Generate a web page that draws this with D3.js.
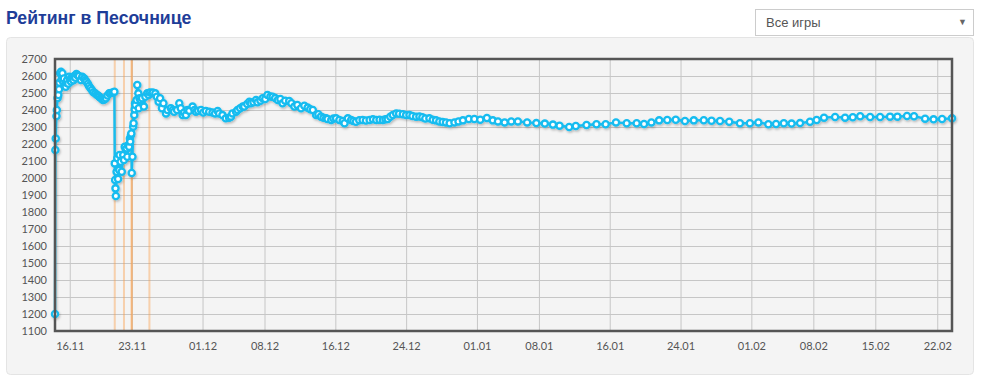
<!DOCTYPE html>
<html>
<head>
<meta charset="utf-8">
<script src="https://cdn.jsdelivr.net/npm/d3@7"></script>
<style>
  body { margin: 0; background: #fff; }
  #wrap { position: relative; width: 984px; height: 376px; }
  #sel {
    position: absolute; left: 755px; top: 9px; width: 217px; height: 25px;
    border: 1px solid #ccc; background: #fff; box-sizing: content-box;
    font: 13px "Liberation Sans", Arial, sans-serif; color: #555;
  }
  #sel span.t { position: absolute; left: 10px; top: 5px; }
  #sel span.a { position: absolute; right: 6px; top: 7px; font-size: 9px; color: #666; }
</style>
</head>
<body>
<div id="wrap">
  <div id="graf"></div>
  <div id="sel"><span class="t">Все игры</span><span class="a">▼</span></div>
</div>
<script>
// data: time of game ("dd.mm.yy HH") and sandbox rating after it
dates = [
  "14.11.16 08","14.11.16 09","14.11.16 10","14.11.16 12","14.11.16 13","14.11.16 15","14.11.16 17","14.11.16 19",
  "14.11.16 20","14.11.16 22","15.11.16 00","15.11.16 02","15.11.16 04","15.11.16 06","15.11.16 08","15.11.16 11",
  "15.11.16 13","15.11.16 15","15.11.16 17","15.11.16 20","15.11.16 22","16.11.16 01","16.11.16 03","16.11.16 05",
  "16.11.16 07","16.11.16 10","16.11.16 12","16.11.16 15","16.11.16 18","16.11.16 21","17.11.16 01","17.11.16 06",
  "17.11.16 10","17.11.16 15","17.11.16 18","17.11.16 21","18.11.16 01","18.11.16 04","18.11.16 08","18.11.16 12",
  "18.11.16 16","18.11.16 21","19.11.16 01","19.11.16 05","19.11.16 08","19.11.16 12","19.11.16 16","19.11.16 18",
  "19.11.16 22","20.11.16 02","20.11.16 06","20.11.16 11","20.11.16 15","20.11.16 20","20.11.16 23","21.11.16 01",
  "21.11.16 02","21.11.16 03","21.11.16 04","21.11.16 05","21.11.16 07","21.11.16 09","21.11.16 11","21.11.16 14",
  "21.11.16 15","21.11.16 18","21.11.16 21","22.11.16 01","22.11.16 03","22.11.16 05","22.11.16 08","22.11.16 10",
  "22.11.16 12","22.11.16 15","22.11.16 17","22.11.16 19","22.11.16 20","22.11.16 22","22.11.16 23","23.11.16 00",
  "23.11.16 02","23.11.16 04","23.11.16 05","23.11.16 07","23.11.16 08","23.11.16 09","23.11.16 10","23.11.16 13",
  "23.11.16 15","23.11.16 18","23.11.16 19","23.11.16 21","24.11.16 00","24.11.16 04","24.11.16 09","24.11.16 13",
  "24.11.16 18","24.11.16 22","25.11.16 01","25.11.16 07","25.11.16 09","25.11.16 16","25.11.16 20","26.11.16 01",
  "26.11.16 05","26.11.16 10","26.11.16 14","26.11.16 21","27.11.16 01","27.11.16 10","27.11.16 15","27.11.16 19",
  "28.11.16 03","28.11.16 09","28.11.16 13","28.11.16 18","28.11.16 22","29.11.16 03","29.11.16 07","29.11.16 12",
  "29.11.16 21","30.11.16 02","30.11.16 06","30.11.16 12","30.11.16 20","01.12.16 02","01.12.16 09","01.12.16 18",
  "02.12.16 03","02.12.16 10","02.12.16 17","02.12.16 21","03.12.16 06","03.12.16 15","04.12.16 00","04.12.16 05",
  "04.12.16 09","04.12.16 19","04.12.16 23","05.12.16 06","05.12.16 13","05.12.16 17","06.12.16 01","06.12.16 07",
  "06.12.16 11","06.12.16 18","07.12.16 01","07.12.16 05","07.12.16 13","07.12.16 19","08.12.16 02","08.12.16 08",
  "08.12.16 16","08.12.16 22","09.12.16 05","09.12.16 12","09.12.16 19","10.12.16 01","10.12.16 08","10.12.16 19",
  "11.12.16 01","11.12.16 09","11.12.16 17","12.12.16 03","12.12.16 12","12.12.16 21","13.12.16 04","13.12.16 11",
  "13.12.16 20","14.12.16 02","14.12.16 09","14.12.16 16","14.12.16 23","15.12.16 03","15.12.16 13","15.12.16 19",
  "16.12.16 02","16.12.16 11","16.12.16 20","17.12.16 01","17.12.16 10","17.12.16 19","18.12.16 01","18.12.16 08",
  "18.12.16 17","19.12.16 02","19.12.16 11","19.12.16 21","20.12.16 06","20.12.16 15","21.12.16 00","21.12.16 09",
  "21.12.16 16","21.12.16 22","22.12.16 05","22.12.16 12","22.12.16 21","23.12.16 05","23.12.16 15","24.12.16 00",
  "24.12.16 09","24.12.16 17","25.12.16 03","25.12.16 12","25.12.16 20","26.12.16 04","26.12.16 15","27.12.16 00",
  "27.12.16 09","27.12.16 18","28.12.16 03","28.12.16 12","28.12.16 22","29.12.16 11","29.12.16 22","30.12.16 10",
  "31.12.16 02","31.12.16 17","01.01.17 09","02.01.17 03","02.01.17 19","03.01.17 09","04.01.17 03","04.01.17 21",
  "05.01.17 15","06.01.17 16","07.01.17 17","08.01.17 16","09.01.17 14","10.01.17 08","11.01.17 10","12.01.17 04",
  "13.01.17 09","14.01.17 12","15.01.17 13","16.01.17 17","17.01.17 22","19.01.17 01","19.01.17 21","20.01.17 17",
  "21.01.17 14","22.01.17 12","23.01.17 11","24.01.17 12","25.01.17 12","26.01.17 15","27.01.17 12","28.01.17 11",
  "29.01.17 12","30.01.17 17","31.01.17 20","01.02.17 19","02.02.17 22","03.02.17 19","04.02.17 16","05.02.17 13",
  "06.02.17 12","07.02.17 15","08.02.17 09","09.02.17 05","10.02.17 11","11.02.17 14","12.02.17 11","13.02.17 07",
  "14.02.17 10","15.02.17 13","16.02.17 16","17.02.17 12","18.02.17 14","19.02.17 09","20.02.17 15","21.02.17 14",
  "22.02.17 13","23.02.17 16"
]
ratings = [
  1200,2165,2233,2365,2400,2470,2488,2522,
  2561,2616,2625,2580,2616,2567,2586,2550,
  2537,2560,2576,2555,2596,2580,2567,2590,
  2586,2575,2600,2590,2612,2605,2600,2576,
  2595,2586,2575,2567,2555,2541,2530,2518,
  2505,2498,2490,2485,2478,2470,2465,2459,
  2462,2469,2485,2498,2500,2502,2505,2508,
  2086,1988,1939,1894,2037,2116,1994,2047,
  2135,2096,2037,2135,2106,2184,2165,2174,
  2125,2194,2184,2233,2214,2253,2262,2029,
  2125,2302,2322,2370,2404,2440,2429,2459,
  2547,2498,2410,2469,2459,2469,2420,2478,
  2498,2488,2503,2498,2503,2498,2478,2449,
  2469,2410,2440,2380,2400,2410,2400,2390,
  2400,2440,2410,2370,2385,2370,2400,2395,
  2420,2400,2390,2395,2400,2385,2394,2390,
  2386,2380,2394,2380,2370,2351,2355,2361,
  2380,2390,2400,2410,2420,2420,2435,2449,
  2440,2445,2459,2445,2455,2469,2465,2488,
  2480,2478,2470,2459,2465,2440,2455,2453,
  2440,2420,2430,2410,2425,2414,2405,2400,
  2370,2375,2361,2355,2351,2347,2341,2350,
  2351,2341,2335,2322,2351,2341,2335,2331,
  2340,2341,2338,2341,2345,2341,2343,2341,
  2345,2347,2360,2370,2380,2378,2375,2370,
  2370,2365,2361,2362,2358,2350,2351,2342,
  2339,2332,2330,2327,2322,2327,2333,2339,
  2347,2347,2343,2353,2339,2333,2327,2333,
  2333,2327,2323,2320,2314,2308,2300,2306,
  2312,2316,2316,2327,2322,2322,2318,2327,
  2339,2341,2343,2335,2339,2340,2337,2335,
  2331,2322,2322,2327,2316,2318,2322,2320,
  2323,2331,2341,2355,2359,2355,2357,2363,
  2359,2359,2361,2361,2365,2363,2349,2345,
  2347,2351
]
// orange marks (23.11 has two of them, so it looks darker)
eventos = ["21.11.16 02", "22.11.16 03", "23.11.16 00", "23.11.16 00", "25.11.16 00"]
xTicks = ["16.11.16", "23.11.16", "01.12.16", "08.12.16", "16.12.16", "24.12.16", "01.01.17",
          "08.01.17", "16.01.17", "24.01.17", "01.02.17", "08.02.17", "15.02.17", "22.02.17"]
yTicks = d3.range(1100, 2701, 100)

parseTime = d3.timeParse("%d.%m.%y %H")
parseDay = d3.timeParse("%d.%m.%y")
data = dates.map((d, i) => ({ date: parseTime(d), rating: ratings[i] }))

ancho_total = 984
alto_total = 376
margins = { top: 59, left: 55, right: 32, bottom: 45 }
ancho = ancho_total - margins.left - margins.right
alto = alto_total - margins.top - margins.bottom

svg = d3.select('#graf').append('svg')
        .attr('width', ancho_total)
        .attr('height', alto_total)
        .style('position', 'absolute').style('left', 0).style('top', 0)

defs = svg.append('defs')
defs.append('filter').attr('id', 'sombra')
        .attr('x', '-20%').attr('y', '-20%').attr('width', '140%').attr('height', '140%')
        .append('feDropShadow')
        .attr('dx', 1).attr('dy', 1.5).attr('stdDeviation', 1)
        .attr('flood-color', '#000').attr('flood-opacity', 0.25)

// title
svg.append('text')
        .attr('x', 6).attr('y', 24)
        .style('font', 'bold 17.7px "Liberation Sans", Arial, sans-serif')
        .style('fill', '#1e3d98')
        .text('Рейтинг в Песочнице')

// grey panel
svg.append('rect')
        .attr('x', 6.5).attr('y', 37.5).attr('width', 967).attr('height', 337)
        .attr('rx', 4)
        .style('fill', '#f4f4f4').style('stroke', '#e4e4e4')

g = svg.append('g')
        .attr('transform', `translate(${margins.left}, ${margins.top})`)

x = d3.scaleTime().range([0, ancho]).domain(d3.extent(data, d => d.date))
y = d3.scaleLinear().range([alto, 0]).domain([1100, 2700])

// grid
g.append('g')
        .call(d3.axisLeft(y).tickValues(yTicks).tickSize(-ancho).tickFormat(''))
        .call(a => a.select('.domain').remove())
        .selectAll('line').style('stroke', '#c6c6c6')
g.append('g')
        .attr('transform', `translate(0, ${alto})`)
        .call(d3.axisBottom(x).tickValues(xTicks.map(parseDay)).tickSize(-alto).tickFormat(''))
        .call(a => a.select('.domain').remove())
        .selectAll('line').style('stroke', '#c6c6c6')

// event marks
g.selectAll('.evento').data(eventos).join('line')
        .attr('class', 'evento')
        .attr('x1', d => x(parseTime(d))).attr('x2', d => x(parseTime(d)))
        .attr('y1', 0).attr('y2', alto)
        .style('stroke', '#fb9d48').style('stroke-opacity', 0.42).style('stroke-width', 2)

// labels
g.append('g')
        .call(d3.axisLeft(y).tickValues(yTicks).tickSize(0).tickPadding(8).tickFormat(d3.format('d')))
        .call(a => a.select('.domain').remove())
        .selectAll('text').style('font', '11px Lato').style('fill', '#555')
g.append('g')
        .attr('transform', `translate(0, ${alto})`)
        .call(d3.axisBottom(x).tickValues(xTicks.map(parseDay)).tickSize(0).tickPadding(11)
                .tickFormat(d3.timeFormat('%d.%m')))
        .call(a => a.select('.domain').remove())
        .selectAll('text').style('font', '11px Lato').style('fill', '#555')

// rating line
valueline = d3.line()
        .x(d => x(d.date))
        .y(d => y(d.rating))

serie = g.append('g').attr('filter', 'url(#sombra)')
serie.append('path')
        .datum(data)
        .attr('d', valueline)
        .style('fill', 'none').style('stroke', '#14bcf0').style('stroke-width', 2.4)
serie.selectAll('circle').data(data).join('circle')
        .attr('cx', d => x(d.date)).attr('cy', d => y(d.rating))
        .attr('r', 3.1)
        .style('fill', '#fff').style('stroke', '#14bcf0').style('stroke-width', 2.3)

// frame
g.append('rect')
        .attr('width', ancho).attr('height', alto)
        .style('fill', 'none').style('stroke', '#555').style('stroke-width', 2.5)
</script>
</body>
</html>
